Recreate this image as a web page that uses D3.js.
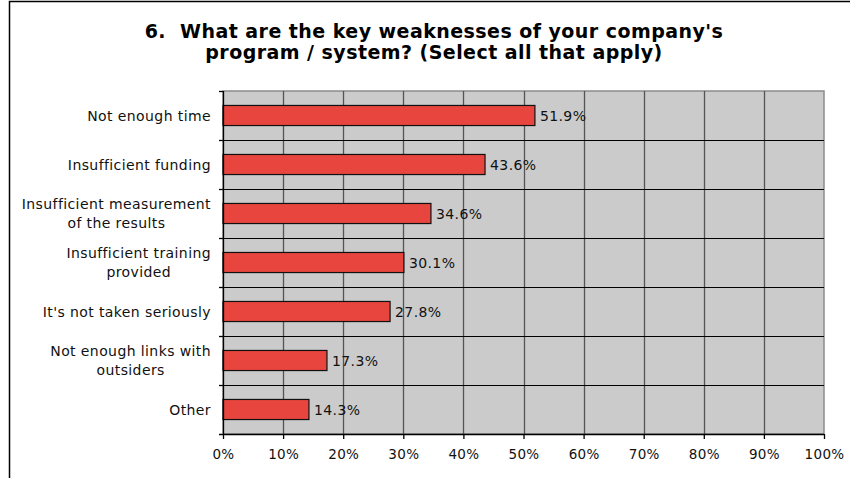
<!DOCTYPE html>
<html>
<head>
<meta charset="utf-8">
<script src="https://cdn.jsdelivr.net/npm/d3@7"></script>
<style>
  html, body { margin: 0; padding: 0; background: #fff; }
  svg { display: block; }
  text { white-space: pre; }
</style>
</head>
<body>
<script>
// Survey question 6: share of respondents naming each weakness
const categories = [
  ["Not enough time"],
  ["Insufficient funding"],
  ["Insufficient measurement", "of the results"],
  ["Insufficient training", "provided"],
  ["It's not taken seriously"],
  ["Not enough links with", "outsiders"],
  ["Other"]
];
const values = [51.9, 43.6, 34.6, 30.1, 27.8, 17.3, 14.3];
const tickValues = [0, 10, 20, 30, 40, 50, 60, 70, 80, 90, 100];
const titleLines = [
  "6.  What are the key weaknesses of your company's",
  "program / system? (Select all that apply)"
];

const W = 850, H = 478;
const plot = { left: 223, right: 824, top: 91, bottom: 434 };
const font = "Verdana, 'DejaVu Sans', sans-serif";
const labelSize = 14, labelSpacing = 0.4;

const svg = d3.select("body").append("svg")
  .attr("width", W).attr("height", H);

// outer frame (left and top edges visible)
svg.append("path")
  .attr("d", `M9.5,${H} V1.5 H${W}`)
  .attr("fill", "none").attr("stroke", "#000").attr("stroke-width", 1.5);

// title
svg.append("g").selectAll("text").data(titleLines).join("text")
  .attr("x", 434).attr("y", (d, i) => 38 + i * 20.5)
  .attr("text-anchor", "middle")
  .attr("font-family", font).attr("font-weight", "bold")
  .attr("font-size", 19).attr("letter-spacing", 0.45).attr("fill", "#000")
  .text(d => d);

const x = d3.scaleLinear().domain([0, 100]).range([plot.left, plot.right]);
const y = d3.scaleBand().domain(d3.range(categories.length))
  .range([plot.top, plot.bottom]).paddingInner(0).paddingOuter(0);

// plot background
svg.append("rect")
  .attr("x", plot.left).attr("y", plot.top)
  .attr("width", plot.right - plot.left).attr("height", plot.bottom - plot.top)
  .attr("fill", "#cbcbcb").attr("stroke", "#8c8c8c").attr("stroke-width", 1.5);

// vertical gridlines
svg.append("g").selectAll("line").data(tickValues.slice(1, -1)).join("line")
  .attr("x1", d => Math.round(x(d)) + 0.5).attr("x2", d => Math.round(x(d)) + 0.5)
  .attr("y1", plot.top).attr("y2", plot.bottom)
  .attr("stroke", "#555").attr("stroke-width", 1.3);

// horizontal category separators
svg.append("g").selectAll("line").data(d3.range(1, categories.length)).join("line")
  .attr("x1", plot.left - 4).attr("x2", plot.right)
  .attr("y1", d => Math.round(plot.top + d * y.step()) + 0.5)
  .attr("y2", d => Math.round(plot.top + d * y.step()) + 0.5)
  .attr("stroke", "#000").attr("stroke-width", 1.2);

// bars
const barH = y.step() * 0.41;
svg.append("g").selectAll("rect").data(values).join("rect")
  .attr("x", x(0))
  .attr("y", (d, i) => y(i) + y.bandwidth() / 2 - barH / 2)
  .attr("width", d => x(d) - x(0))
  .attr("height", barH)
  .attr("fill", "#e8453f").attr("stroke", "#111").attr("stroke-width", 1.2);

// value labels
svg.append("g").selectAll("text").data(values).join("text")
  .attr("x", d => x(d) + 5)
  .attr("y", (d, i) => y(i) + y.bandwidth() / 2 + 5)
  .attr("font-family", font).attr("font-size", labelSize)
  .attr("letter-spacing", labelSpacing).attr("fill", "#111")
  .text(d => d.toFixed(1) + "%");

// bottom axis
const xAxis = d3.axisBottom(x).tickValues(tickValues)
  .tickFormat(d => d + "%").tickSize(5).tickSizeOuter(0);
const gx = svg.append("g").attr("transform", `translate(0,${plot.bottom})`).call(xAxis);
gx.select(".domain").attr("stroke", "#000").attr("stroke-width", 1.3)
  .attr("d", `M${plot.left - 4},0.5H${plot.right}`);
gx.selectAll(".tick line").attr("stroke", "#000").attr("stroke-width", 1.3);
gx.selectAll(".tick text").attr("font-family", font).attr("font-size", 13.5)
  .attr("letter-spacing", 0.3)
  .attr("fill", "#111").attr("dy", "0").attr("y", 25);

// left axis line and ticks
svg.append("line")
  .attr("x1", plot.left + 0.5).attr("x2", plot.left + 0.5)
  .attr("y1", plot.top).attr("y2", plot.bottom)
  .attr("stroke", "#000").attr("stroke-width", 1.3);
svg.append("g").selectAll("line").data(d3.range(0, categories.length)).join("line")
  .attr("x1", plot.left - 4).attr("x2", plot.left)
  .attr("y1", d => Math.round(plot.top + d * y.step()) + 0.5)
  .attr("y2", d => Math.round(plot.top + d * y.step()) + 0.5)
  .attr("stroke", "#000").attr("stroke-width", 1.3);

// category labels: lines centred on each other, block right-aligned to the axis
const lab = svg.append("g").selectAll("text").data(categories).join("text")
  .attr("text-anchor", "middle")
  .attr("font-family", font).attr("font-size", labelSize)
  .attr("letter-spacing", labelSpacing).attr("fill", "#111");
lab.each(function(lines, i) {
  const t = d3.select(this);
  const cy = y(i) + y.bandwidth() / 2;
  const lh = 19;
  lines.forEach((s, j) => {
    t.append("tspan")
      .attr("y", cy + 5 + (j - (lines.length - 1) / 2) * lh)
      .text(s);
  });
  const spans = t.selectAll("tspan").nodes();
  const maxW = d3.max(spans, n => n.getComputedTextLength());
  spans.forEach(n => n.setAttribute("x", 211 - maxW / 2));
});
</script>
</body>
</html>
